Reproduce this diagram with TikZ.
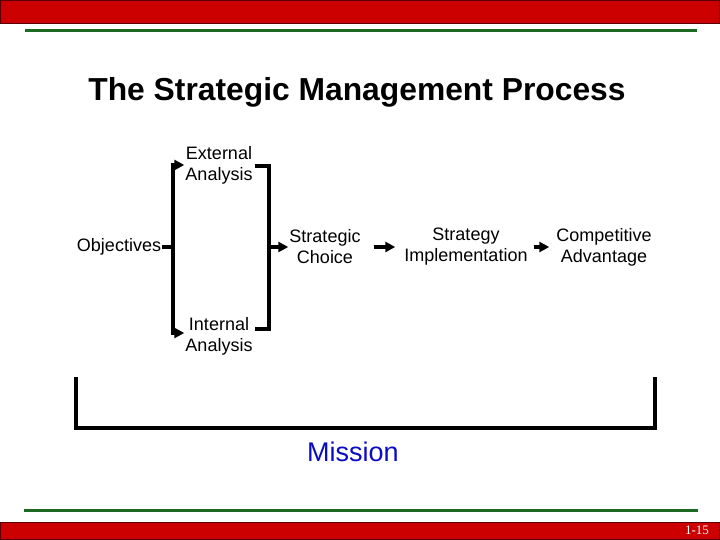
\documentclass[tikz,border=0pt]{standalone}
\usepackage{fontspec}
\setmainfont{Liberation Sans}
\newfontfamily\slidenum{Liberation Serif}
\usetikzlibrary{arrows.meta, positioning}
\definecolor{barred}{RGB}{204,0,0}
\definecolor{bardark}{RGB}{90,0,0}
\definecolor{rulegreen}{RGB}{30,105,35}
\definecolor{missionblue}{RGB}{10,10,200}

\tikzset{
  txt/.style={align=center, inner sep=1pt, font=\fontsize{18}{21}\selectfont},
  bar/.style={line width=3.5pt},
  arr/.style={line width=3.5pt, -{Triangle[length=10pt,width=10pt]}},
  gap/.style={shorten <=12pt, shorten >=8pt}
}

\begin{document}
\begin{tikzpicture}[x=1pt, y=-1pt]
\useasboundingbox (0,0) rectangle (720,540);
% frame of the slide
\draw[fill=barred, draw=bardark, line width=1pt] (0.5,0.5) rectangle (719.5,23.5);
\draw[fill=barred, draw=bardark, line width=1pt] (0.5,522) rectangle (719.5,539.5);
\draw[rulegreen, line width=3pt] (25,31) -- (697,31);
\draw[rulegreen, line width=3pt] (24,510) -- (698,510);
\node[text=white, font=\slidenum\fontsize{13}{15}\selectfont] (num) at (697,530) {1-15};
%
\node[font=\bfseries\fontsize{31.8}{36}\selectfont] (title) at (357,92) {The Strategic Management Process};
%
\node[txt] (obj) at (119,247) {Objectives};
\node[txt] (ext) at (219,165) {External\\Analysis};
\node[txt] (int) at (219,336) {Internal\\Analysis};
\node[txt] (choice) at (325,247) {Strategic\\Choice};
\node[txt] (impl) at (466,247) {Strategy\\Implementation};
\node[txt] (adv) at (604,247) {Competitive\\Advantage};
\node[font=\fontsize{27}{32}\selectfont, text=missionblue] (mission) at (353,452) {Mission};
%
\coordinate (lt) at (173,165);
\coordinate (lm) at (173,247);
\coordinate (lb) at (173,333);
\coordinate (rt) at (269,166);
\coordinate (rm) at (269,247);
\coordinate (rb) at (269,329);
\draw[bar] (obj.east) -- (lm);
\draw[bar] (lt) -- (lb);
\draw[arr] ([xshift=-1.75pt]lt) -- (lt -| ext.west);
\draw[arr] ([xshift=-1.75pt]lb) -- (lb -| int.west);
\draw[bar] ([xshift=1pt]rt -| ext.east) -- (rt) -- (rb) -- ([xshift=1pt]rb -| ext.east);
\draw[arr] (rm) -- (choice.west);
\draw[arr, gap] (choice) -- (impl);
\draw[arr, shorten <=5pt, shorten >=6pt] (impl) -- (adv);
%
\coordinate (ml) at (76,377);
\coordinate (mr) at (655,377);
\draw[bar] (ml) -- (ml |- 0,428) -- (mr |- 0,428) -- (mr);
\end{tikzpicture}
\end{document}
